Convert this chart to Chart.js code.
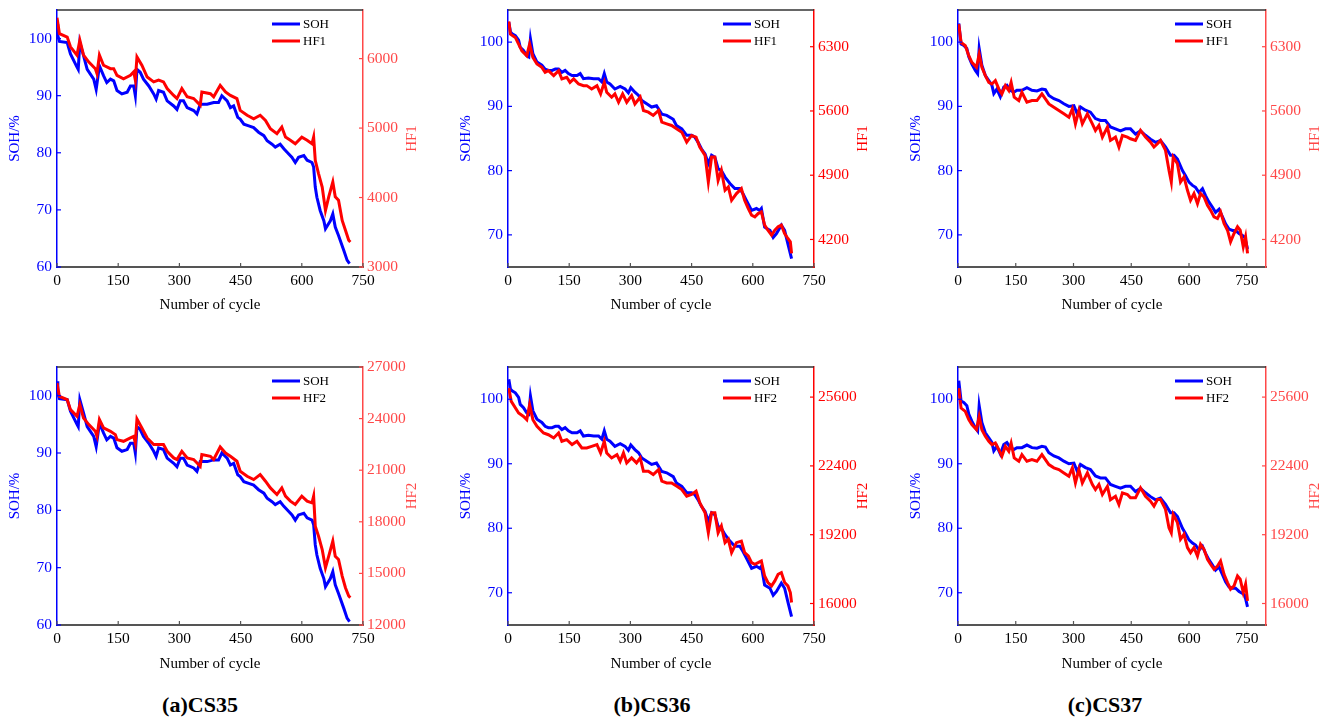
<!DOCTYPE html>
<html>
<head>
<meta charset="utf-8">
<script src="https://cdn.jsdelivr.net/npm/chart.js@4.4.1/dist/chart.umd.min.js"></script>
<style>
    body { margin: 0; background: #fff; width: 1340px; height: 719px; position: relative; overflow: hidden; }
    .panel { position: absolute; }
    .cap { position: absolute; top: 692px; width: 200px; text-align: center; font: bold 22px "Liberation Serif", serif; color: #000; }
</style>
</head>
<body>
<div class="cap" style="left:100px">(a)CS35</div>
<div class="cap" style="left:552px">(b)CS36</div>
<div class="cap" style="left:1005px">(c)CS37</div>
<script>
// values: [cycle, value]
const cycleTicks = [0, 150, 300, 450, 600, 750];
const sohTicksA = [60, 70, 80, 90, 100];
const sohTicksBC = [70, 80, 90, 100];
const hf1TicksA = [3000, 4000, 5000, 6000];
const hf1TicksBC = [4200, 4900, 5600, 6300];
const hf2TicksA = [12000, 15000, 18000, 21000, 24000, 27000];
const hf2TicksBC = [16000, 19200, 22400, 25600];

const cs35Soh = [[0,102.5],[2,100.5],[6,99.5],[25,99.3],[33,97.3],[49,95],[52,94.6],[56,99.3],[65,97],[74,94.6],[90,92.9],[96,91.1],[104,95.2],[114,93.5],[122,92.3],[131,92.9],[139,92.6],[147,90.9],[159,90.3],[172,90.6],[180,91.7],[188,91.7],[192,90],[196,94.6],[204,94.1],[212,92.9],[225,91.7],[237,90.3],[243,89.4],[249,90.9],[261,90.6],[270,89.1],[286,88.2],[294,87.6],[302,89.1],[310,89.1],[319,87.9],[335,87.4],[343,86.8],[351,88.5],[368,88.5],[384,88.8],[396,88.8],[404,90],[417,89.1],[425,87.9],[433,88.2],[443,86.2],[449,85.9],[458,85],[470,84.7],[482,84.4],[494,83.6],[507,83],[515,82.1],[527,81.5],[535,81],[547,81.5],[556,80.7],[564,80.1],[576,79.2],[584,78.3],[592,79.2],[605,79.5],[613,78.7],[625,78.3],[629,77.5],[633,74],[637,72.2],[645,69.9],[654,68.1],[658,66.7],[670,68.1],[676,69.3],[682,67],[690,65.5],[703,62.9],[711,61.2],[717,60.6]];
const cs35Hf1 = [[0,6590],[6,6360],[25,6310],[33,6170],[49,6050],[56,6265],[65,6050],[78,5950],[94,5855],[98,5785],[104,6050],[114,5905],[131,5855],[139,5855],[147,5760],[163,5710],[180,5760],[188,5810],[192,5690],[196,6025],[208,5905],[221,5735],[237,5665],[249,5690],[261,5665],[270,5570],[286,5470],[294,5425],[306,5570],[319,5450],[335,5425],[351,5330],[355,5520],[376,5495],[384,5450],[400,5615],[413,5520],[425,5470],[441,5425],[449,5255],[466,5185],[482,5135],[498,5185],[511,5110],[523,4990],[539,4920],[551,5015],[560,4870],[572,4825],[584,4775],[600,4870],[613,4825],[625,4775],[629,4870],[633,4535],[641,4345],[650,4150],[658,3815],[666,4010],[676,4225],[682,4010],[690,3960],[699,3670],[707,3530],[715,3385],[719,3360]];
const cs35Hf2 = [[0,26070],[6,25290],[25,25100],[33,24520],[49,24130],[56,24810],[65,24035],[78,23650],[94,23260],[98,22970],[104,23940],[114,23455],[131,23260],[143,23070],[147,22780],[163,22680],[180,22875],[188,22970],[192,22585],[196,23975],[208,23455],[221,22875],[237,22490],[249,22490],[261,22490],[270,22100],[286,21715],[294,21620],[306,22100],[319,21715],[335,21620],[351,21230],[355,21910],[376,21810],[384,21620],[400,22350],[413,22000],[425,21810],[441,21520],[449,20940],[466,20650],[482,20455],[498,20745],[511,20360],[523,19970],[539,19585],[551,19970],[560,19490],[572,19200],[584,19005],[600,19490],[613,19200],[625,19100],[629,19490],[633,17750],[641,17165],[650,16390],[658,15330],[666,16000],[676,16875],[682,16000],[690,15810],[699,14845],[707,14170],[715,13685],[719,13590]];

const cs36Soh = [[2,103.1],[6,101.6],[10,101.3],[18,101],[26,100.3],[30,99.2],[38,98.7],[46,97.9],[51,97.7],[55,100.5],[61,98.2],[71,96.9],[83,96.4],[91,95.8],[99,95.6],[108,95.6],[116,95.8],[124,95.8],[132,95.3],[140,95.6],[148,95.1],[157,94.8],[169,94.8],[177,95.1],[185,94.3],[197,94.4],[210,94.3],[222,94.3],[230,93.8],[236,95.1],[242,93.8],[250,93.5],[262,92.7],[275,93.1],[287,92.7],[295,92.1],[301,92.9],[311,92.2],[320,91.7],[328,90.9],[340,90.4],[352,89.9],[364,90.1],[377,88.8],[389,88.6],[405,88],[413,87],[426,86.5],[438,85.5],[450,85.5],[458,85.2],[466,84.4],[474,83.4],[483,82.6],[491,81.1],[499,82.4],[507,82.1],[515,80.3],[523,80],[532,79],[544,78],[556,77.2],[568,77.2],[576,76.4],[584,75.4],[597,73.8],[609,74.1],[617,73.8],[621,74.1],[629,71.2],[642,70.7],[650,69.6],[658,70.2],[670,71.5],[678,70.7],[686,68.6],[695,66.3]];
const cs36Hf1 = [[2,6575],[6,6437],[18,6401],[26,6329],[34,6256],[46,6202],[53,6329],[61,6184],[71,6112],[83,6075],[91,6021],[99,6039],[112,5985],[124,6039],[132,5949],[144,5967],[152,5912],[161,5949],[173,5894],[185,5876],[193,5876],[205,5840],[218,5876],[227,5786],[236,5912],[242,5804],[254,5750],[262,5786],[271,5695],[281,5786],[291,5695],[303,5768],[311,5677],[324,5750],[332,5605],[344,5587],[356,5551],[369,5605],[377,5478],[389,5460],[401,5442],[413,5406],[426,5369],[438,5261],[450,5333],[461,5315],[470,5206],[483,5116],[491,4826],[499,5098],[507,5098],[515,4844],[523,4953],[532,4736],[540,4772],[548,4627],[560,4700],[572,4754],[580,4627],[589,4537],[597,4464],[605,4446],[613,4482],[621,4500],[629,4356],[637,4301],[646,4247],[654,4301],[662,4338],[670,4356],[678,4265],[686,4211],[692,4175],[695,4048]];
const cs36Hf2 = [[2,26018],[8,25400],[26,24860],[38,24700],[46,24550],[53,25245],[61,24550],[71,24240],[87,23930],[99,23850],[112,23700],[124,23930],[132,23545],[144,23620],[157,23390],[169,23545],[181,23235],[193,23235],[205,23310],[218,23390],[227,23000],[236,23545],[242,23000],[254,22770],[267,22925],[275,22615],[283,23000],[291,22540],[303,22770],[315,22540],[324,22770],[332,22150],[344,22150],[356,22000],[369,22230],[377,21690],[389,21610],[401,21610],[413,21460],[426,21300],[438,20990],[450,21070],[461,21225],[470,20685],[483,20220],[491,19290],[499,20220],[507,20220],[515,19290],[523,19600],[532,18830],[540,18985],[548,18365],[560,18830],[572,18905],[580,18365],[589,18210],[597,17900],[605,17825],[613,17900],[621,17980],[629,17280],[637,16975],[646,16820],[654,17050],[662,17360],[670,17440],[678,16975],[686,16820],[692,16510],[695,16045]];

const cs37Soh = [[2,102.9],[8,99.7],[15,99.5],[23,99],[28,97.7],[36,96.6],[45,95.6],[51,95.1],[55,99],[62,96.4],[71,94.8],[80,94],[88,93.3],[93,92],[101,92.7],[110,91.5],[119,93],[127,93.3],[136,92.5],[145,92.2],[153,92.5],[166,92.5],[179,92.9],[192,92.5],[205,92.4],[218,92.7],[227,92.6],[236,91.7],[249,91.2],[262,90.9],[275,90.4],[288,90],[301,90.1],[310,88.8],[318,89.9],[331,89.4],[344,89.1],[357,88.1],[370,87.8],[383,87.8],[396,86.8],[409,86.5],[422,86.2],[435,86.5],[448,86.5],[461,85.7],[474,86.2],[487,85.5],[500,84.9],[513,84.4],[526,84.7],[539,83.7],[552,82.4],[561,82.4],[570,81.8],[583,80],[591,79.2],[600,78.2],[609,77.7],[617,77.4],[626,76.6],[635,77.2],[643,76.1],[652,75.1],[661,74.3],[669,73.5],[678,74],[687,72.8],[695,71.7],[704,70.9],[713,70.7],[721,70.7],[730,70.2],[739,69.9],[745,69.6],[752,67.8]];
const cs37Hf1 = [[2,6546],[8,6347],[19,6311],[28,6202],[36,6130],[48,6075],[55,6220],[62,6075],[71,5985],[80,5912],[88,5894],[97,5930],[106,5840],[114,5786],[123,5876],[132,5822],[138,5912],[146,5750],[158,5713],[166,5804],[179,5695],[192,5713],[205,5713],[218,5786],[227,5732],[236,5677],[249,5641],[262,5605],[275,5569],[288,5532],[297,5623],[305,5460],[314,5605],[323,5460],[336,5569],[349,5460],[357,5388],[366,5442],[375,5315],[388,5424],[396,5279],[409,5315],[418,5207],[427,5333],[440,5315],[448,5297],[461,5279],[474,5388],[487,5315],[500,5261],[509,5207],[518,5243],[526,5279],[539,5170],[548,4953],[554,4826],[559,5098],[570,5025],[578,4826],[587,4881],[596,4736],[604,4627],[613,4700],[622,4591],[630,4700],[639,4663],[648,4573],[656,4519],[665,4446],[674,4428],[682,4500],[691,4374],[700,4301],[708,4175],[717,4265],[726,4338],[733,4301],[741,4120],[747,4229],[752,4048]];
const cs37Hf2 = [[2,26018],[8,25090],[19,24935],[28,24550],[36,24320],[48,24085],[55,24700],[62,24085],[71,23775],[80,23545],[88,23390],[97,23465],[106,23160],[114,22850],[123,23310],[132,23080],[138,23465],[146,22770],[158,22615],[166,22925],[179,22615],[192,22695],[205,22615],[218,22925],[227,22695],[236,22460],[249,22310],[262,22230],[275,22075],[288,21920],[297,22310],[305,21610],[314,22230],[323,21610],[336,22075],[349,21535],[357,21300],[366,21535],[375,21070],[388,21450],[396,20830],[409,20990],[418,20600],[427,21145],[440,21070],[448,20915],[461,20915],[474,21380],[487,20990],[500,20760],[509,20530],[518,20840],[526,20840],[539,20375],[548,19525],[554,19290],[559,20145],[570,19760],[578,18985],[587,19215],[596,18600],[604,18365],[613,18600],[622,18210],[630,18750],[639,18520],[648,18055],[656,17825],[665,17590],[674,17745],[682,17980],[691,17360],[700,16975],[708,16665],[717,16820],[726,17280],[733,17130],[741,16510],[747,16900],[752,16125]];

const BLUE = '#0000ff';
const RED = '#ff0000';
const SOFT_RED = '#ff4848';
const FONT = '"Liberation Serif", "Times New Roman", serif';

const panels = [
    { soh: cs35Soh, hf: cs35Hf1, hfName: 'HF1', sohMin: 60, sohTicks: sohTicksA, hfMin: 3000, hfMax: 6700, hfTicks: hf1TicksA, xMax: 750, axisRed: SOFT_RED, left: 0, top: 0, width: 423, xh: 53, tpad: 6 },
    { soh: cs36Soh, hf: cs36Hf1, hfName: 'HF1', sohMin: 65, sohTicks: sohTicksBC, hfMin: 3900, hfMax: 6700, hfTicks: hf1TicksBC, xMax: 750, axisRed: RED, left: 451, top: 0, width: 423, xh: 53, tpad: 6 },
    { soh: cs37Soh, hf: cs37Hf1, hfName: 'HF1', sohMin: 65, sohTicks: sohTicksBC, hfMin: 3900, hfMax: 6700, hfTicks: hf1TicksBC, xMax: 800, axisRed: SOFT_RED, left: 901, top: 0, width: 425, xh: 53, tpad: 6 },
    { soh: cs35Soh, hf: cs35Hf2, hfName: 'HF2', sohMin: 60, sohTicks: sohTicksA, hfMin: 12000, hfMax: 27000, hfTicks: hf2TicksA, xMax: 750, axisRed: SOFT_RED, left: 0, top: 357, width: 423, xh: 52, tpad: 4 },
    { soh: cs36Soh, hf: cs36Hf2, hfName: 'HF2', sohMin: 65, sohTicks: sohTicksBC, hfMin: 15000, hfMax: 27000, hfTicks: hf2TicksBC, xMax: 750, axisRed: RED, left: 451, top: 357, width: 423, xh: 52, tpad: 4 },
    { soh: cs37Soh, hf: cs37Hf2, hfName: 'HF2', sohMin: 65, sohTicks: sohTicksBC, hfMin: 15000, hfMax: 27000, hfTicks: hf2TicksBC, xMax: 800, axisRed: SOFT_RED, left: 901, top: 357, width: 425, xh: 52, tpad: 4 }
];

// top frame line, inward tick marks, right-hand title and the legend
const framePlugin = {
    id: 'frame',
    afterDraw(chart, args, opts) {
        const { ctx, chartArea: a, scales } = chart;
        ctx.save();
        ctx.strokeStyle = '#333';
        ctx.lineWidth = 1.5;
        ctx.beginPath();
        ctx.moveTo(a.left, a.top);
        ctx.lineTo(a.right, a.top);
        ctx.stroke();

        ctx.lineWidth = 1.2;
        ctx.strokeStyle = '#555';
        scales.x.ticks.forEach(t => {
            const px = scales.x.getPixelForValue(t.value);
            ctx.beginPath(); ctx.moveTo(px, a.bottom); ctx.lineTo(px, a.bottom - 4); ctx.stroke();
        });
        ctx.strokeStyle = BLUE;
        scales.ySoh.ticks.forEach(t => {
            const py = scales.ySoh.getPixelForValue(t.value);
            ctx.beginPath(); ctx.moveTo(a.left, py); ctx.lineTo(a.left + 4, py); ctx.stroke();
        });
        ctx.strokeStyle = opts.axisRed;
        scales.yHf.ticks.forEach(t => {
            const py = scales.yHf.getPixelForValue(t.value);
            ctx.beginPath(); ctx.moveTo(a.right, py); ctx.lineTo(a.right - 4, py); ctx.stroke();
        });

        // right axis title reads bottom to top
        ctx.save();
        ctx.translate(a.right + 49, (a.top + a.bottom) / 2);
        ctx.rotate(-Math.PI / 2);
        ctx.font = '15px ' + FONT;
        ctx.fillStyle = opts.axisRed;
        ctx.textAlign = 'center';
        ctx.textBaseline = 'middle';
        ctx.fillText(chart.data.datasets[0].label, 0, 0);
        ctx.restore();

        ctx.font = '13px ' + FONT;
        ctx.textBaseline = 'middle';
        ctx.fillStyle = '#000';
        const legendItems = [chart.data.datasets[1], chart.data.datasets[0]];
        legendItems.forEach((ds, i) => {
            const y = a.top + 14 + i * 17;
            ctx.strokeStyle = ds.borderColor;
            ctx.lineWidth = 3;
            ctx.beginPath();
            ctx.moveTo(a.right - 91, y);
            ctx.lineTo(a.right - 63, y);
            ctx.stroke();
            ctx.fillText(ds.label, a.right - 60, y + 1);
        });
        ctx.restore();
    }
};

const setTicks = vals => scale => { scale.ticks = vals.map(v => ({ value: v })); };
const plainLabel = v => String(v);

panels.forEach(p => {
    const box = document.createElement('div');
    box.className = 'panel';
    box.style.left = p.left + 'px';
    box.style.top = p.top + 'px';
    const canvas = document.createElement('canvas');
    canvas.width = p.width;
    canvas.height = 320;
    box.appendChild(canvas);
    document.body.appendChild(box);

    new Chart(canvas.getContext('2d'), {
        type: 'line',
        data: {
            datasets: [
                {
                    label: p.hfName,
                    data: p.hf.map(([x, y]) => ({ x, y })),
                    yAxisID: 'yHf',
                    borderColor: RED,
                    borderWidth: 3,
                    pointRadius: 0,
                    order: 0
                },
                {
                    label: 'SOH',
                    data: p.soh.map(([x, y]) => ({ x, y })),
                    yAxisID: 'ySoh',
                    borderColor: BLUE,
                    borderWidth: 3,
                    pointRadius: 0,
                    order: 1
                }
            ]
        },
        options: {
            responsive: false,
            animation: false,
            layout: { padding: { top: 10, left: 0, right: 0, bottom: 0 } },
            plugins: { legend: { display: false }, tooltip: { enabled: false }, frame: { axisRed: p.axisRed } },
            scales: {
                x: {
                    type: 'linear',
                    min: 0,
                    max: p.xMax,
                    afterBuildTicks: setTicks(cycleTicks),
                    afterFit: s => { s.height = p.xh; s.paddingLeft = 0; s.paddingRight = 0; },
                    grid: { display: false, drawTicks: false },
                    border: { color: '#555', width: 2 },
                    ticks: { color: '#000', padding: 5, callback: plainLabel, font: { family: FONT, size: 15.5 } },
                    title: { display: true, text: 'Number of cycle', color: '#000', padding: { bottom: p.tpad }, font: { family: FONT, size: 15 } }
                },
                ySoh: {
                    position: 'left',
                    min: p.sohMin,
                    max: 105,
                    afterBuildTicks: setTicks(p.sohTicks),
                    afterFit: s => { s.width = 57; s.paddingTop = 0; s.paddingBottom = 0; },
                    grid: { display: false, drawTicks: false },
                    border: { color: BLUE, width: 1.5 },
                    ticks: { color: BLUE, padding: 5, callback: plainLabel, font: { family: FONT, size: 15.5 } },
                    title: { display: true, text: 'SOH/%', color: BLUE, padding: { top: 6 }, font: { family: FONT, size: 15 } }
                },
                yHf: {
                    position: 'right',
                    min: p.hfMin,
                    max: p.hfMax,
                    afterBuildTicks: setTicks(p.hfTicks),
                    afterFit: s => { s.width = 60; s.paddingTop = 0; s.paddingBottom = 0; },
                    grid: { display: false, drawTicks: false },
                    border: { color: p.axisRed, width: 1.5 },
                    ticks: { color: p.axisRed, padding: 4, callback: plainLabel, font: { family: FONT, size: 15.5 } },
                    title: { display: false }
                }
            }
        },
        plugins: [framePlugin]
    });
});
</script>
</body>
</html>
